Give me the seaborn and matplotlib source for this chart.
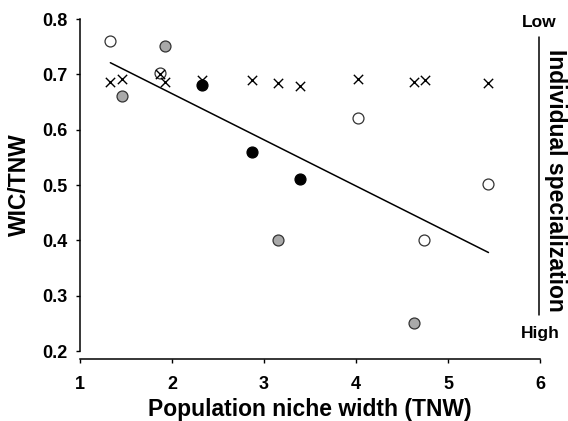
import matplotlib
matplotlib.use("Agg")
import matplotlib.pyplot as plt
import seaborn as sns
import numpy as np

# open circles
open_x = [1.33, 1.87, 4.02, 5.44, 4.74]
open_y = [0.760, 0.702, 0.621, 0.501, 0.400]
# grey circles
grey_x = [1.92, 1.46, 3.15, 4.63]
grey_y = [0.751, 0.660, 0.400, 0.251]
# black circles
black_x = [2.33, 2.87, 3.39]
black_y = [0.680, 0.560, 0.510]
# crosses
cross_x = [1.33, 1.46, 1.87, 1.92, 2.33, 2.87, 3.15, 3.39, 4.02, 4.63, 4.75, 5.44]
cross_y = [0.687, 0.691, 0.700, 0.686, 0.690, 0.690, 0.684, 0.679, 0.691, 0.686, 0.689, 0.685]
# trend line
trend_x = [1.33, 5.44]
trend_y = [0.721, 0.378]

sns.set_style("ticks")
plt.rcParams['font.family'] = ['Liberation Sans', 'DejaVu Sans']
plt.rcParams['text.color'] = 'black'
plt.rcParams['axes.labelcolor'] = 'black'
plt.rcParams['xtick.color'] = 'black'
plt.rcParams['ytick.color'] = 'black'

fig = plt.figure(figsize=(5.68, 4.21), dpi=100)
ax = fig.add_axes([80 / 568, 1 - 351 / 421, 460 / 568, 332 / 421])

sns.lineplot(x=trend_x, y=trend_y, ax=ax, color='black', linewidth=1.1, zorder=1)
sns.scatterplot(x=cross_x, y=cross_y, ax=ax, marker='x', color='black', s=45, linewidth=1.0, zorder=3)
sns.scatterplot(x=open_x, y=open_y, ax=ax, marker='o', color='white', edgecolor='#333333', s=62, linewidth=0.9, zorder=2)
sns.scatterplot(x=grey_x, y=grey_y, ax=ax, marker='o', color='#a9a9a9', edgecolor='#333333', s=62, linewidth=0.9, zorder=2)
sns.scatterplot(x=black_x, y=black_y, ax=ax, marker='o', color='black', edgecolor='black', s=62, linewidth=0.9, zorder=2)

ax.set_xlim(1, 6)
ax.set_ylim(0.2, 0.8)
ax.set_xticks([1, 2, 3, 4, 5, 6])
ax.set_yticks([0.2, 0.3, 0.4, 0.5, 0.6, 0.7, 0.8])
ax.set_yticklabels(['0.2', '0.3', '0.4', '0.5', '0.6', '0.7', '0.8'])
for s in ['top', 'right']:
    ax.spines[s].set_visible(False)
ax.spines['bottom'].set_position(('outward', 5.8))
ax.spines['bottom'].set_linewidth(1.1)
ax.spines['left'].set_linewidth(1.1)
ax.spines['bottom'].set_color('black')
ax.spines['left'].set_color('black')
ax.tick_params(axis='both', length=3, width=1.0, labelsize=13, color='black')
ax.tick_params(axis='x', pad=9)
ax.tick_params(axis='y', pad=6)
for lab in ax.get_xticklabels() + ax.get_yticklabels():
    lab.set_fontweight('bold')

ax.set_xlabel('Population niche width (TNW)', fontsize=16.5, fontweight='bold', labelpad=4)
ax.set_ylabel('WIC/TNW', fontsize=16.5, fontweight='bold', labelpad=8)

ax.text(0.998, 0.988, 'Low', transform=ax.transAxes, ha='center', va='center',
        fontsize=12.5, fontweight='bold')
ax.text(1.0, 0.054, 'High', transform=ax.transAxes, ha='center', va='center',
        fontsize=12.5, fontweight='bold')
ax.plot([0.998, 0.998], [0.946, 0.108], transform=ax.transAxes, color='black',
        linewidth=1.1, clip_on=False)
ax.text(1.034, 0.515, 'Individual specialization', transform=ax.transAxes,
        ha='center', va='center', rotation=270, fontsize=16.5, fontweight='bold')

fig.savefig('out.png', dpi=100)
